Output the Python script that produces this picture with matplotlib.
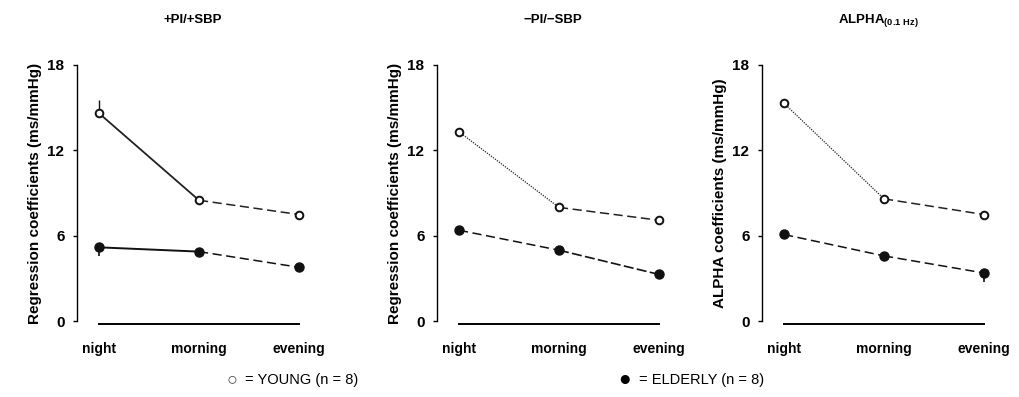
import matplotlib.pyplot as plt

plt.rcParams['font.family'] = ['Liberation Sans', 'DejaVu Sans']

periods = ['night', 'morning', 'evening']
titles = ['+PI/+SBP', '\u2212PI/\u2212SBP', r'ALPHA$_{\mathregular{(0.1\ Hz)}}$']
ylabels = ['Regression coefficients (ms/mmHg)',
           'Regression coefficients (ms/mmHg)',
           'ALPHA coefficients (ms/mmHg)']

# mean values per panel (ms/mmHg)
young_pos = [14.6, 8.5, 7.5]
young_neg = [13.3, 8.0, 7.1]
young_alpha = [15.3, 8.6, 7.5]
elderly_pos = [5.2, 4.9, 3.8]
elderly_neg = [6.4, 5.0, 3.3]
elderly_alpha = [6.1, 4.6, 3.4]

# one-sided SEM (up for young, down for elderly)
young_pos_sem = [0.9, 0.15, 0.15]
young_neg_sem = [0.3, 0.1, 0.1]
young_alpha_sem = [0.3, 0.1, 0.1]
elderly_pos_sem = [0.6, 0.15, 0.15]
elderly_neg_sem = [0.3, 0.15, 0.1]
elderly_alpha_sem = [0.15, 0.15, 0.6]

young = [young_pos, young_neg, young_alpha]
elderly = [elderly_pos, elderly_neg, elderly_alpha]
young_sem = [young_pos_sem, young_neg_sem, young_alpha_sem]
elderly_sem = [elderly_pos_sem, elderly_neg_sem, elderly_alpha_sem]

# line style of the two segments (night-morning, morning-evening)
young_styles = [[('-', 1.3), ((0, (6, 3)), 1.1)],
                [((0, (1, 1)), 0.9), ((0, (6, 3)), 1.1)],
                [((0, (1, 1)), 0.9), ((0, (6, 3)), 1.1)]]
elderly_styles = [[('-', 1.4), ((0, (6, 3)), 1.1)],
                  [((0, (6, 3)), 1.1), ((0, (6, 2)), 1.2)],
                  [((0, (6, 3)), 1.1), ((0, (6, 3)), 1.1)]]

fig = plt.figure(figsize=(10.2, 3.97), dpi=100)
lefts = [77, 437, 762]
x = [0, 1, 2]

for i in range(3):
    ax = fig.add_axes([lefts[i] / 1020, 0.183, 232 / 1020, 0.661])
    for seg in range(2):
        ls, lw = young_styles[i][seg]
        ax.plot(x[seg:seg + 2], young[i][seg:seg + 2], color='#222222',
                linestyle=ls, linewidth=lw)
        ls, lw = elderly_styles[i][seg]
        ax.plot(x[seg:seg + 2], elderly[i][seg:seg + 2], color='#111111',
                linestyle=ls, linewidth=lw)
    ax.errorbar(x, young[i], yerr=[[0, 0, 0], young_sem[i]], fmt='o',
                ms=5.5, mfc='white', mec='#111111', mew=1.4,
                ecolor='#111111', elinewidth=1.0, capsize=0, zorder=5)
    ax.errorbar(x, elderly[i], yerr=[elderly_sem[i], [0, 0, 0]], fmt='o',
                ms=6.5, mfc='#111111', mec='#111111',
                ecolor='#111111', elinewidth=1.2, capsize=0, zorder=5)

    ax.set_xlim(-0.22, 2.1)
    ax.set_ylim(-0.2, 18.2)
    ax.set_yticks([0, 6, 12, 18])
    ax.set_xticks(x)
    ax.set_xticklabels(periods, fontsize=10, fontweight='bold')
    ax.tick_params(axis='x', length=0, pad=13)
    ax.tick_params(axis='y', length=3, width=1, pad=6, labelsize=11)
    for lab in ax.get_yticklabels():
        lab.set_fontweight('bold')
    for s in ['top', 'right']:
        ax.spines[s].set_visible(False)
    ax.spines['left'].set_bounds(0, 18)
    ax.spines['left'].set_linewidth(1.0)
    ax.spines['bottom'].set_bounds(0, 2)
    ax.spines['bottom'].set_linewidth(1.4)
    ax.set_ylabel(ylabels[i], fontsize=11, fontweight='bold', labelpad=4)
    ax.set_title(titles[i], fontsize=9.5, fontweight='bold', pad=28)

# legend line under the panels
fig.text(0.222, 0.043, '\u25cb', fontsize=13, va='center', color='#444444')
fig.text(0.240, 0.043, '= YOUNG (n = 8)', fontsize=10.5, va='center')
fig.text(0.606, 0.043, '\u25cf', fontsize=15, va='center')
fig.text(0.626, 0.043, '= ELDERLY (n = 8)', fontsize=10.5, va='center')

fig.savefig('out.png', dpi=100)
